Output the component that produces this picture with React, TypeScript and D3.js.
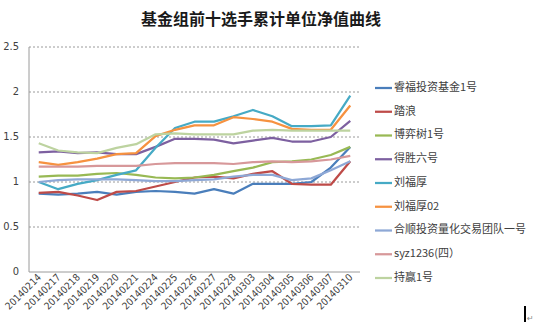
import React from "react";
import * as d3 from "d3";

const categories = ["20140214","20140217","20140218","20140219","20140220","20140221","20140224","20140225","20140226","20140227","20140228","20140303","20140304","20140305","20140306","20140307","20140310"];

const seriesNames = ["睿福投资基金1号","踏浪","博弈树1号","得胜六号","刘福厚","刘福厚02","合顺投资量化交易团队一号","syz1236(四）","持赢1号"];

const ruifu = [0.87,0.86,0.87,0.89,0.86,0.89,0.90,0.89,0.87,0.92,0.87,0.98,0.98,0.98,1.00,1.16,1.39];
const talang = [0.88,0.89,0.85,0.80,0.89,0.90,0.95,1.00,1.05,1.06,1.04,1.09,1.12,0.98,0.97,0.97,1.23];
const boyishu = [1.06,1.07,1.07,1.09,1.10,1.08,1.05,1.04,1.05,1.08,1.12,1.16,1.22,1.23,1.25,1.30,1.39];
const desheng = [1.33,1.34,1.32,1.33,1.31,1.31,1.39,1.48,1.48,1.47,1.43,1.46,1.49,1.45,1.45,1.50,1.68];
const liufuhou = [1.00,0.92,0.98,1.02,1.08,1.13,1.38,1.60,1.67,1.67,1.73,1.80,1.73,1.62,1.62,1.63,1.96];
const liufuhou02 = [1.22,1.19,1.22,1.26,1.31,1.32,1.51,1.58,1.63,1.63,1.72,1.70,1.67,1.59,1.58,1.58,1.85];
const heshun = [1.00,1.02,1.03,1.03,1.03,1.02,1.01,1.01,1.02,1.03,1.06,1.08,1.08,1.02,1.04,1.13,1.23];
const syz = [1.17,1.17,1.17,1.18,1.18,1.18,1.20,1.21,1.21,1.21,1.20,1.22,1.23,1.22,1.23,1.25,1.29];
const chiying = [1.43,1.35,1.33,1.32,1.38,1.42,1.53,1.54,1.53,1.53,1.53,1.57,1.58,1.57,1.57,1.57,1.57];

const seriesValues = [ruifu, talang, boyishu, desheng, liufuhou, liufuhou02, heshun, syz, chiying];
const colors = ["#4A7EBB","#BE4B48","#98B954","#7D60A0","#46AAC5","#F69240","#8EA8D6","#D7989A","#BDD3A0"];

const yTicks = [0, 0.5, 1, 1.5, 2, 2.5];
const yTickLabels = ["0","0.5","1","1.5","2","2.5"];

const W = 534, H = 328;
const plot = { left: 29, right: 360, top: 47, bottom: 272 };

export default function App() {
  const x = d3.scaleBand<string>().domain(categories).range([plot.left, plot.right]);
  const y = d3.scaleLinear().domain([0, 2.5]).range([plot.bottom, plot.top]);
  const cx = (c: string) => (x(c) ?? 0) + x.bandwidth() / 2;
  const line = d3.line<number>().x((_, i) => cx(categories[i])).y((v) => y(v));
  const numFont = "'Liberation Sans Narrow', 'DejaVu Sans Condensed', 'Liberation Sans', sans-serif";
  const cjkFont = "'Noto Sans CJK SC', 'Noto Sans', sans-serif";
  const legendTop = 88, legendStep = 23.75;

  return (
    <svg width={W} height={H} style={{ position: "absolute", left: 0, top: 0, background: "#fff" }}>
      <text x={261} y={21} textAnchor="middle" dominantBaseline="middle" fontFamily={cjkFont} fontSize={16} fontWeight={600} fill="#1a1a1a">基金组前十选手累计单位净值曲线</text>
      {yTicks.filter((t) => t > 0).map((t) => (
        <line key={"g" + t} x1={plot.left} x2={plot.right} y1={y(t)} y2={y(t)} stroke="#9a9a9a" strokeWidth={1} strokeDasharray="2,2" />
      ))}
      <line x1={plot.left} x2={plot.left} y1={plot.top} y2={plot.bottom} stroke="#9a9a9a" strokeWidth={1} />
      <line x1={plot.left} x2={plot.right} y1={plot.bottom} y2={plot.bottom} stroke="#9a9a9a" strokeWidth={1} />
      {yTicks.map((t, i) => (
        <text key={"yl" + t} x={19} y={y(t)} textAnchor="end" dominantBaseline="middle" fontFamily={numFont} fontSize={11} fill="#404040">{yTickLabels[i]}</text>
      ))}
      {categories.map((c) => (
        <text key={c} transform={`translate(${cx(c) + 3},${plot.bottom + 6}) rotate(-45)`} textAnchor="end" fontFamily={numFont} fontSize={10} fill="#404040">{c}</text>
      ))}
      {seriesValues.map((vals, i) => (
        <path key={"s" + i} d={line(vals) ?? ""} fill="none" stroke={colors[i]} strokeWidth={2.25} strokeLinejoin="round" />
      ))}
      {seriesNames.map((n, i) => (
        <g key={"lg" + i}>
          <line x1={375} x2={392} y1={legendTop + i * legendStep} y2={legendTop + i * legendStep} stroke={colors[i]} strokeWidth={2.25} />
          <text x={394} y={legendTop + i * legendStep} dominantBaseline="middle" fontFamily={cjkFont} fontSize={11} fill="#404040">{n}</text>
        </g>
      ))}
      <rect x={524} y={306} width={2} height={16} fill="#000" />
      <text x={527} y={321} fontFamily="'DejaVu Sans', sans-serif" fontSize={8} fill="#888">↵</text>
    </svg>
  );
}
